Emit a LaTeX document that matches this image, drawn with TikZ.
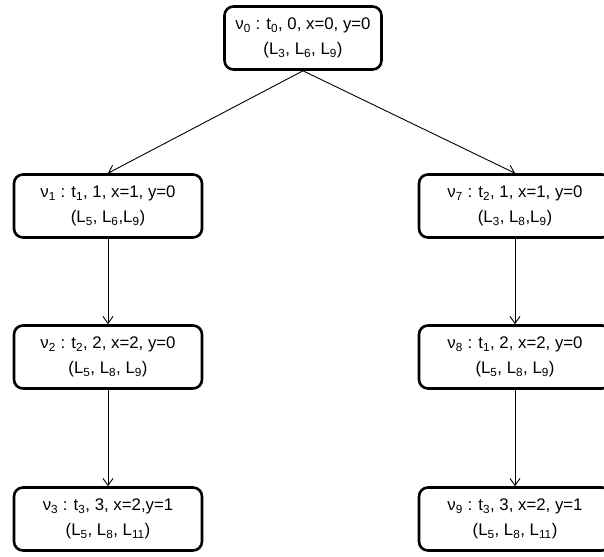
\documentclass[tikz,border=0pt]{standalone}
\usepackage{fontspec}
\setmainfont{Liberation Sans}
\usetikzlibrary{arrows.meta}

\begin{document}
\begin{tikzpicture}[x=1pt, y=-1pt,
  vbox/.style={draw, line width=2.6pt, rounded corners=9pt, minimum width=188pt,
    minimum height=63pt, align=center, inner sep=2pt,
    font=\fontsize{16.8}{25}\selectfont},
  link/.style={line width=0.9pt, -{Straight Barb[length=7pt,width=10pt]}}]
  \useasboundingbox (0,0) rectangle (604,556);
  \node[vbox, minimum width=157pt] (v0) at (303,38)
    {ν\textsubscript{0} : t\textsubscript{0}, 0, x=0, y=0\\(L\textsubscript{3}, L\textsubscript{6}, L\textsubscript{9})};
  \node[vbox] (v1) at (108,206)
    {ν\textsubscript{1} : t\textsubscript{1}, 1, x=1, y=0\\(L\textsubscript{5}, L\textsubscript{6},L\textsubscript{9})};
  \node[vbox] (v2) at (108,357)
    {ν\textsubscript{2} : t\textsubscript{2}, 2, x=2, y=0\\(L\textsubscript{5}, L\textsubscript{8}, L\textsubscript{9})};
  \node[vbox] (v3) at (108,519)
    {ν\textsubscript{3} : t\textsubscript{3}, 3, x=2,y=1\\(L\textsubscript{5}, L\textsubscript{8}, L\textsubscript{11})};
  \node[vbox, minimum width=192pt] (v7) at (515,206)
    {ν\textsubscript{7} : t\textsubscript{2}, 1, x=1, y=0\\(L\textsubscript{3}, L\textsubscript{8},L\textsubscript{9})};
  \node[vbox, minimum width=192pt] (v8) at (515,357)
    {ν\textsubscript{8} : t\textsubscript{1}, 2, x=2, y=0\\(L\textsubscript{5}, L\textsubscript{8}, L\textsubscript{9})};
  \node[vbox, minimum width=192pt] (v9) at (515,519)
    {ν\textsubscript{9} : t\textsubscript{3}, 3, x=2, y=1\\(L\textsubscript{5}, L\textsubscript{8}, L\textsubscript{11})};
  \draw[link] (v0.south) -- (v1.north);
  \draw[link] (v0.south) -- (v7.north);
  \draw[link] (v1) -- (v2);
  \draw[link] (v2) -- (v3);
  \draw[link] (v7) -- (v8);
  \draw[link] (v8) -- (v9);
\end{tikzpicture}
\end{document}
